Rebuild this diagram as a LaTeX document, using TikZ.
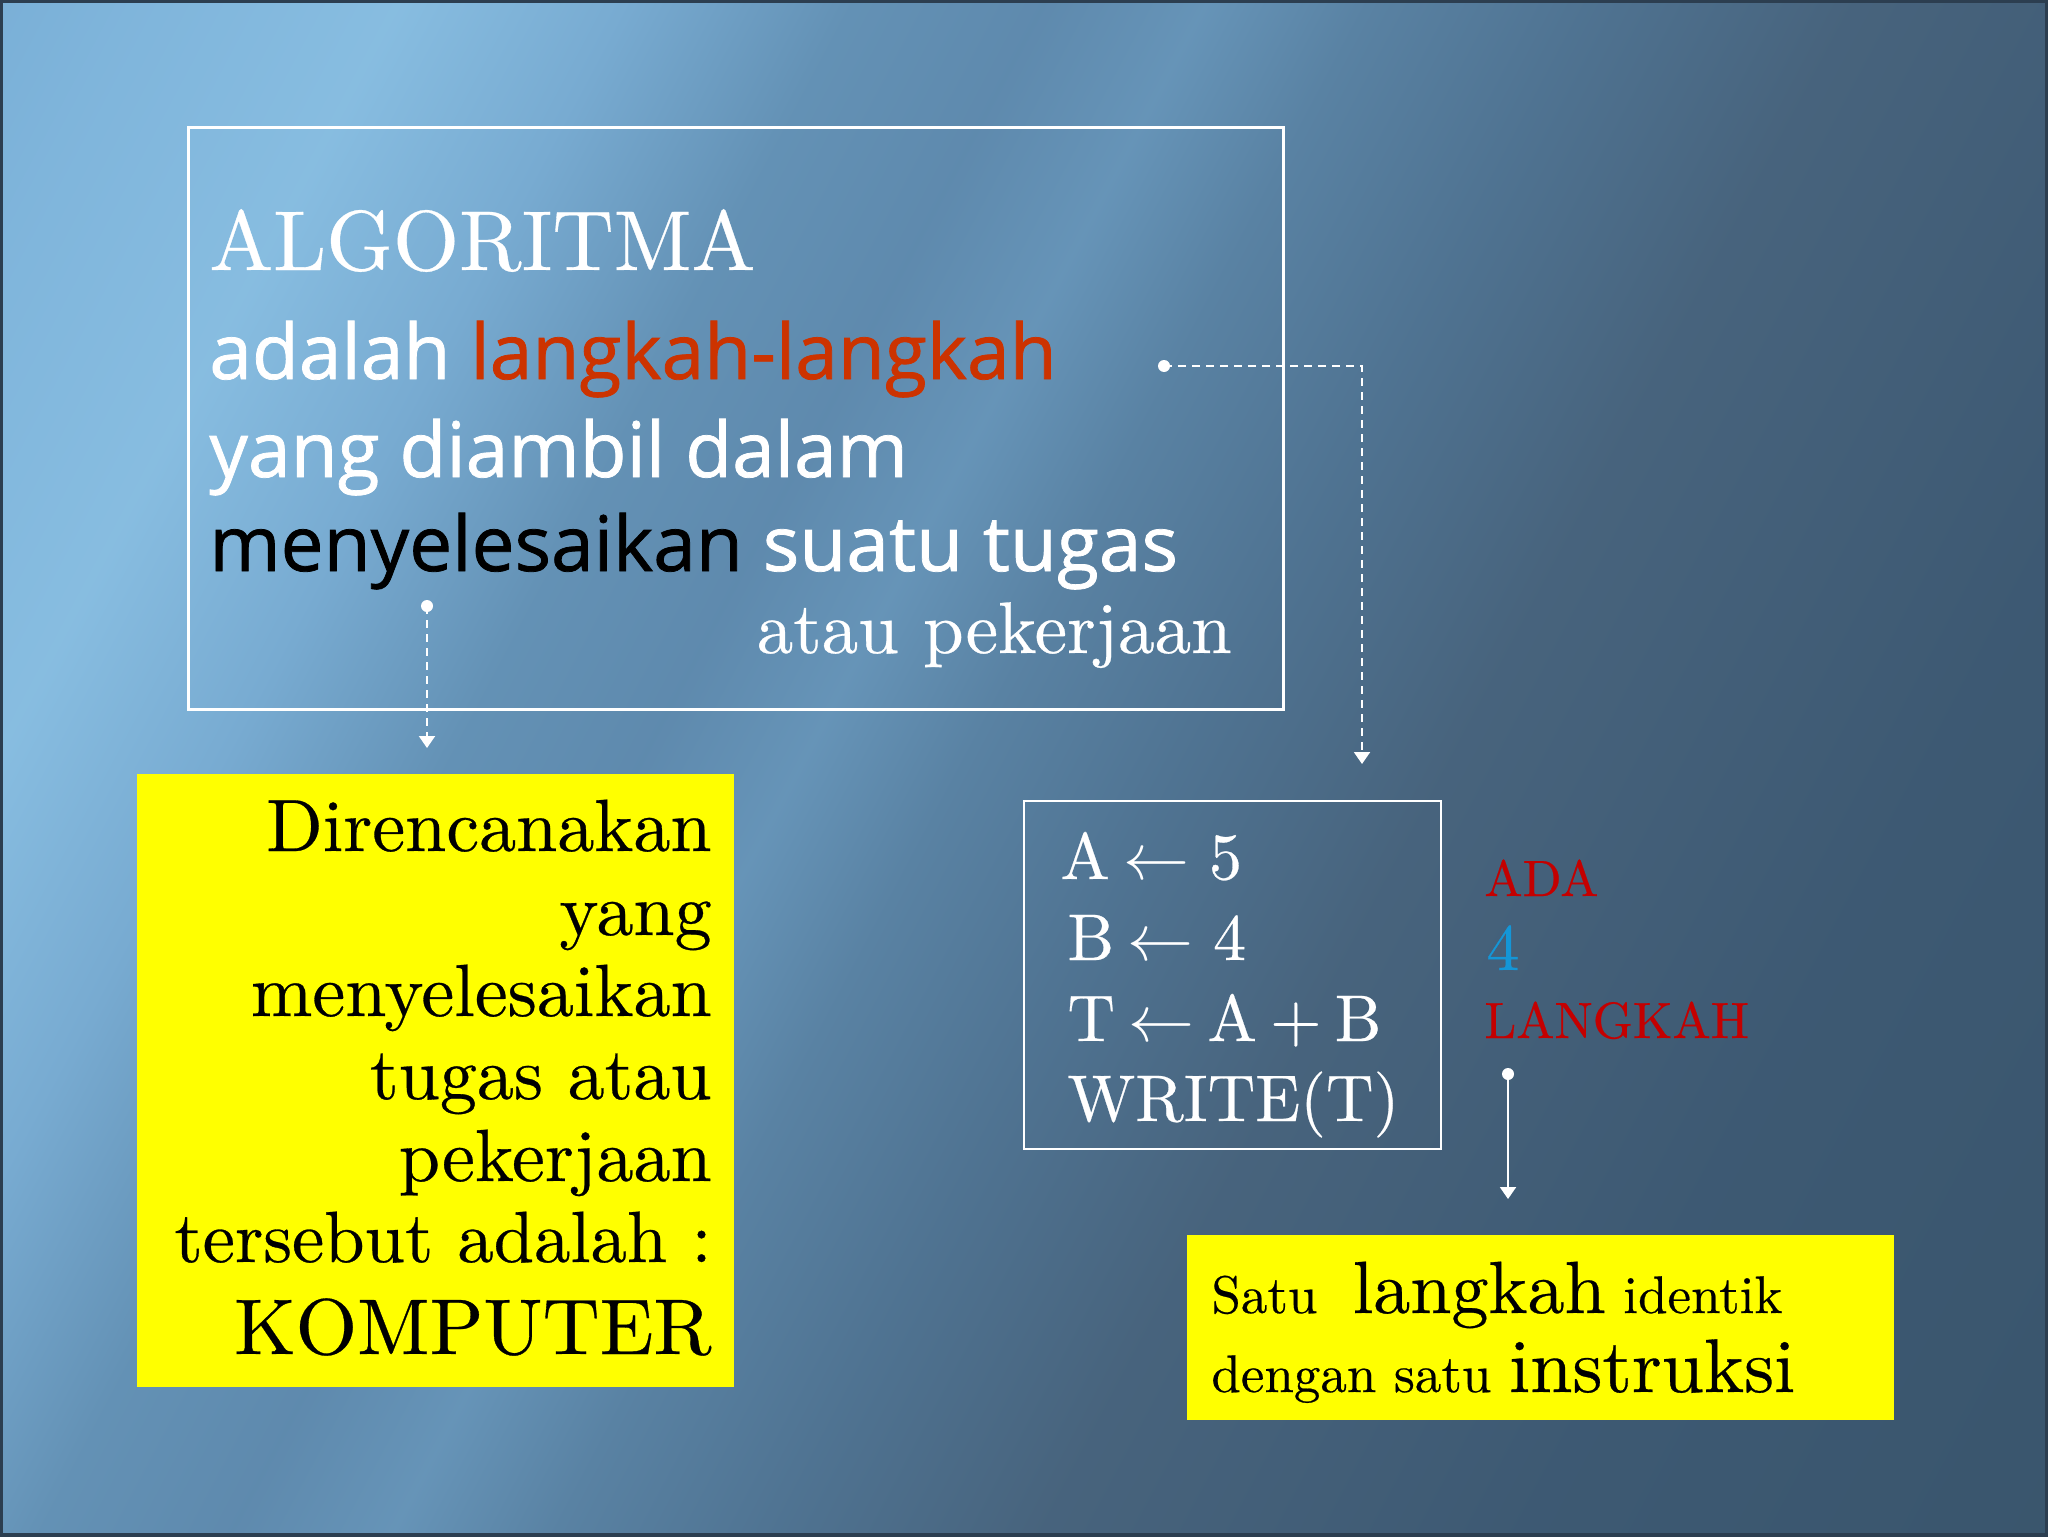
\documentclass[tikz,border=0pt]{standalone}
\usepackage{fix-cm}
\usepackage{fontspec}
\setmainfont{lmroman10-regular}[Extension=.otf, FakeBold=0.4]
\newfontfamily\comicf{Open Sans}[FakeBold=1.0]
\usetikzlibrary{arrows.meta}
\definecolor{langred}{RGB}{204,51,0}
\definecolor{adared}{RGB}{196,0,0}
\definecolor{blue4}{RGB}{20,150,215}
\definecolor{ybg}{RGB}{255,255,0}
\definecolor{frame}{RGB}{44,62,80}
\pgfdeclarehorizontalshading{bgshade}{100bp}{%
rgb(0bp)=(0.45,0.66,0.82);
rgb(25bp)=(0.45,0.66,0.82);
rgb(30bp)=(0.50,0.71,0.86);
rgb(34bp)=(0.53,0.74,0.88);
rgb(37.5bp)=(0.47,0.67,0.82);
rgb(41bp)=(0.39,0.57,0.71);
rgb(44bp)=(0.37,0.54,0.68);
rgb(46.5bp)=(0.40,0.58,0.72);
rgb(49bp)=(0.35,0.51,0.64);
rgb(52.5bp)=(0.31,0.45,0.57);
rgb(56.5bp)=(0.28,0.39,0.49);
rgb(64bp)=(0.24,0.35,0.45);
rgb(75bp)=(0.22,0.33,0.42);
rgb(100bp)=(0.22,0.33,0.42)}
\tikzset{
  wbox/.style={draw=white, line width=1.5pt, inner sep=0pt},
  mbox/.style={draw=white, line width=1pt, inner sep=0pt},
  ybox/.style={fill=ybg, inner sep=0pt},
  pin/.style={circle, fill=white, inner sep=0pt, minimum size=6pt},
  dconn/.style={draw=white, line width=1pt, dash pattern=on 4pt off 3pt, -{Triangle[length=6pt,width=8pt]}},
  sconn/.style={draw=white, line width=1pt, -{Triangle[length=6pt,width=8pt]}},
  wt/.style={inner sep=0pt, text=white},
  bt/.style={inner sep=0pt, text=black},
}
\newcommand{\fsz}[1]{\fontsize{#1}{#1}\selectfont}
\newcommand{\ga}{\hspace{.2em}}
\newcommand{\gb}{\hspace{.3em}}
\begin{document}
\begin{tikzpicture}[x=0.5pt,y=-0.5pt]
\useasboundingbox (0,0) rectangle (2048,1536);
\begin{scope}
\clip (0,0) rectangle (2048,1536);
\begin{scope}[transform canvas={rotate around={-28:(1024,768)}}]
\shade[shading=bgshade] (-400,-600) rectangle (2450,2150);
\end{scope}
\draw[frame, line width=3pt] (0,0) rectangle (2048,1536);
\end{scope}

% boxes
\node[wbox, minimum width=547.5pt, minimum height=291pt] (topbox) at (735.5,418) {};
\node[mbox, minimum width=208.5pt, minimum height=174pt] (codebox) at (1232.5,975) {};
\node[ybox, minimum width=298.5pt, minimum height=306.5pt] (leftbox) at (435.5,1080.5) {};
\node[ybox, minimum width=353.5pt, minimum height=92.5pt] (rightbox) at (1540.5,1327.5) {};

% top box text
\node[wt, anchor=base west] (algo) at (209,270) {\fsz{42.5}ALGORITMA};
\node[wt, anchor=base west] (l1) at (209,379) {\comicf\fsz{38.3}adalah \textcolor{langred}{langkah-langkah}};
\node[wt, anchor=base west] (l2) at (209,477) {\comicf\fsz{38.3}yang diambil dalam};
\node[wt, anchor=base west] (l3) at (209,571) {\comicf\fsz{38.3}\textcolor{black}{menyelesaikan} suatu tugas};
\node[wt, anchor=base east] (l4) at (1232,653) {\fsz{36.5}atau pekerjaan};

% left yellow text
\node[bt, anchor=base east] (y1) at (712,851) {\fsz{37}Direncanakan};
\node[bt, anchor=base east] (y2) at (712,935) {\fsz{37}yang};
\node[bt, anchor=base east] (y3) at (712,1016) {\fsz{37}menyelesaikan};
\node[bt, anchor=base east] (y4) at (712,1099) {\fsz{37}tugas atau};
\node[bt, anchor=base east] (y5) at (712,1181) {\fsz{37}pekerjaan};
\node[bt, anchor=base east] (y6) at (712,1262) {\fsz{36.3}tersebut adalah :};
\node[bt, anchor=base east] (y7) at (712,1354) {\fsz{39.5}KOMPUTER};

% code box text
\node[wt, anchor=base west] (c1) at (1060,879) {\fsz{33}A\ga$\leftarrow$\gb5};
\node[wt, anchor=base west] (c2) at (1067,960) {\fsz{33}B\ga$\leftarrow$\gb4};
\node[wt, anchor=base west] (c3) at (1067,1041) {\fsz{33}T\ga$\leftarrow$\ga A\ga+\ga B};
\node[wt, anchor=base west] (c4) at (1067,1121) {\fsz{33}WRITE(T)};

% red/blue labels
\node[inner sep=0pt, text=adared, anchor=base west] (ada) at (1484,896) {\fsz{25.5}ADA};
\node[inner sep=0pt, text=blue4, anchor=base west] (four) at (1486,970) {\fsz{33}4};
\node[inner sep=0pt, text=adared, anchor=base west] (lgk) at (1484,1038) {\fsz{25.5}LANGKAH};

% right yellow text
\node[bt, anchor=base west] (r1) at (1211,1313) {\fsz{26.5}Satu\ \ {\fsz{37}langkah} identik};
\node[bt, anchor=base west] (r2) at (1211,1392) {\fsz{26.5}dengan satu {\fsz{38}instruksi}};

% connectors
\node[pin] (pinR) at (1164,366) {};
\node[pin] (pinL) at (427,606) {};
\node[pin] (pinS) at (1508,1074) {};
\coordinate (endR) at (1362,764);
\coordinate (endL) at (427,748);
\coordinate (endS) at (1508,1199);
\draw[dconn] (pinR.center) -| (endR);
\draw[dconn] (pinL.center) -- (endL);
\draw[sconn] (pinS.center) -- (endS);
\end{tikzpicture}
\end{document}
